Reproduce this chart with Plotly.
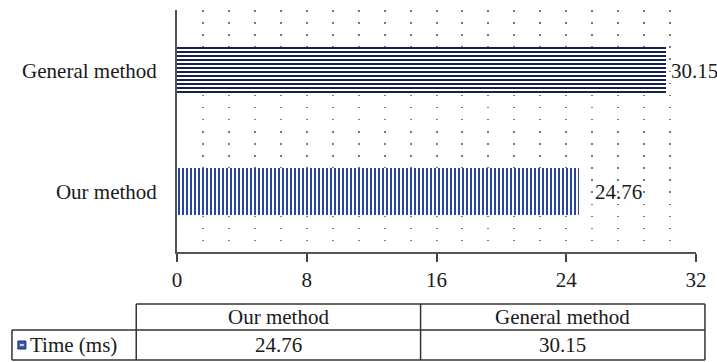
import plotly.graph_objects as go

# Timing comparison data
categories = ["Our method", "General method"]
times_ms = [24.76, 30.15]
series_name = "Time (ms)"
x_ticks = [0, 8, 16, 24, 32]

W, H = 717, 362
ML, MR, MT, MB = 177, 18, 10, 110
PW, PH = W - ML - MR, H - MT - MB

FONT = "Liberation Serif"
FS = 21
TXT = "#1a1a1a"


def px(x):
    """Pixel x -> paper x."""
    return (x - ML) / PW


def py(y):
    """Pixel y -> paper y."""
    return (H - MB - y) / PH


fig = go.Figure()
fig.add_trace(go.Bar(
    y=categories,
    x=times_ms,
    orientation="h",
    width=0.39,
    name=series_name,
    marker=dict(
        color="white",
        line=dict(width=0),
        pattern=dict(
            shape=["|", "-"],
            fgcolor=["#2646a0", "#15224f"],
            bgcolor="white",
            fgopacity=1,
            size=4,
            solidity=0.5,
        ),
    ),
    showlegend=False,
    hoverinfo="skip",
))

# value labels beside the bars
shifts = [14, 3]
for cat, val, sh in zip(categories, times_ms, shifts):
    fig.add_annotation(
        x=val, y=cat, xref="x", yref="y", text=f"{val:.2f}",
        showarrow=False, xanchor="left", yanchor="middle", xshift=sh,
        font=dict(family=FONT, size=FS, color=TXT),
    )

# data table under the axis
LINE = dict(color="#333333", width=1.5)
x_left, x_c1, x_c2, x_right = 11, 136, 422, 708
y_top, y_mid, y_bot = 304, 330, 360
for x0, y0, x1, y1 in [
    (x_c1, y_top, x_right, y_top),
    (x_left, y_mid, x_right, y_mid),
    (x_left, y_bot, x_right, y_bot),
    (x_left, y_mid, x_left, y_bot),
    (x_c1, y_top, x_c1, y_bot),
    (x_c2, y_top, x_c2, y_bot),
    (x_right, y_top, x_right, y_bot),
]:
    fig.add_shape(type="line", xref="paper", yref="paper",
                  x0=px(x0), y0=py(y0), x1=px(x1), y1=py(y1), line=LINE)

col_centers = [(x_c1 + x_c2) / 2, (x_c2 + x_right) / 2]
for cx, cat, val in zip(col_centers, categories, times_ms):
    fig.add_annotation(x=px(cx), y=py((y_top + y_mid) / 2), xref="paper", yref="paper",
                       text=cat, showarrow=False, xanchor="center", yanchor="middle",
                       font=dict(family=FONT, size=FS, color=TXT))
    fig.add_annotation(x=px(cx), y=py((y_mid + y_bot) / 2), xref="paper", yref="paper",
                       text=f"{val:.2f}", showarrow=False, xanchor="center", yanchor="middle",
                       font=dict(family=FONT, size=FS, color=TXT))

# series swatch and name in the row header
fig.add_shape(type="rect", xref="paper", yref="paper",
              x0=px(17), x1=px(25), y0=py(349), y1=py(341),
              fillcolor="#3a5bb0", line=dict(color="#1c2a5e", width=1))
fig.add_shape(type="line", xref="paper", yref="paper",
              x0=px(19), x1=px(23), y0=py(345), y1=py(345),
              line=dict(color="white", width=1.5))
fig.add_annotation(x=px(27), y=py((y_mid + y_bot) / 2), xref="paper", yref="paper",
                   text=series_name, showarrow=False, xanchor="left", yanchor="middle",
                   font=dict(family=FONT, size=FS, color=TXT))

DOTS = dict(gridcolor="#7a7a7a", griddash="1.5px,10.6px", gridwidth=1.5)

fig.update_layout(
    width=W, height=H,
    margin=dict(l=ML, r=MR, t=MT, b=MB),
    paper_bgcolor="white", plot_bgcolor="white",
    font=dict(family=FONT, size=FS, color=TXT),
    bargap=0,
    xaxis=dict(
        range=[0, 32], tickvals=x_ticks, ticktext=[str(t) for t in x_ticks],
        ticks="outside", ticklen=8, tickwidth=2, tickcolor="#444444",
        showline=True, linewidth=2, linecolor="#555555",
        showgrid=True, zeroline=False, **DOTS,
        minor=dict(dtick=1.6, tick0=0, showgrid=True, ticklen=0, **DOTS),
        tickfont=dict(family=FONT, size=FS, color=TXT),
    ),
    yaxis=dict(
        categoryorder="array", categoryarray=categories,
        showline=True, linewidth=2, linecolor="#555555",
        showgrid=False, zeroline=False, ticks="",
        ticklabelstandoff=14,
        tickfont=dict(family=FONT, size=FS, color=TXT),
    ),
)

fig.write_html("out.html")
